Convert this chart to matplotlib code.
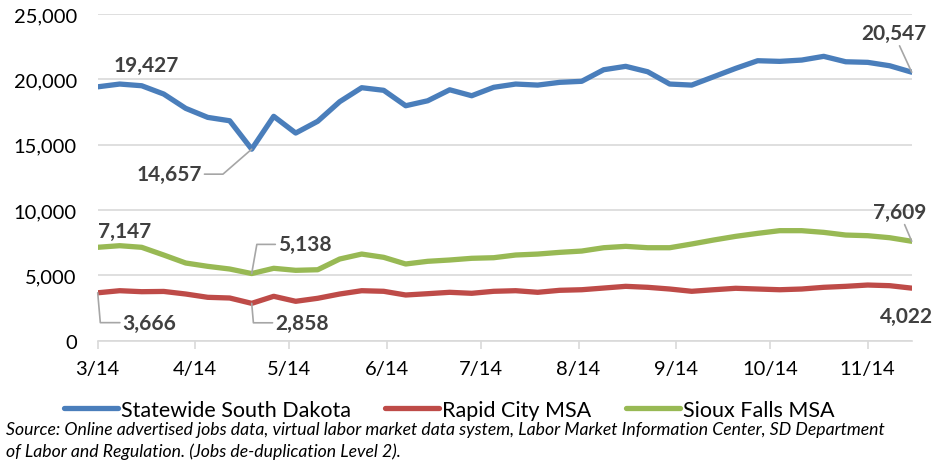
import numpy as np
import pandas as pd
import matplotlib
matplotlib.use('Agg')
import matplotlib.pyplot as plt

# weekly job ads, starting 3/1/2014
weeks = pd.date_range('2014-03-01', periods=38, freq='7D')

statewide = [19427, 19640, 19510, 18875, 17780, 17090, 16830, 14657, 17170, 15890,
             16790, 18290, 19360, 19160, 17980, 18360, 19200, 18745, 19390, 19640,
             19560, 19770, 19850, 20735, 20995, 20580, 19640, 19560, 20200, 20840,
             21425, 21375, 21475, 21760, 21345, 21300, 21040, 20547]
rapid_city = [3666, 3826, 3750, 3770, 3573, 3320, 3267, 2858, 3397, 3015,
              3245, 3573, 3826, 3780, 3497, 3597, 3703, 3627, 3780, 3826,
              3703, 3856, 3900, 4030, 4160, 4085, 3955, 3780, 3900, 4010,
              3955, 3900, 3955, 4085, 4160, 4260, 4210, 4022]
sioux_falls = [7147, 7270, 7146, 6557, 5945, 5690, 5485, 5138, 5540, 5385,
               5430, 6250, 6630, 6380, 5870, 6075, 6175, 6305, 6350, 6557,
               6630, 6760, 6860, 7115, 7220, 7115, 7115, 7400, 7705, 7985,
               8215, 8420, 8420, 8290, 8085, 8035, 7880, 7609]

month_ticks = pd.date_range('2014-03-01', '2014-11-01', freq='MS')
month_labels = ['3/14', '4/14', '5/14', '6/14', '7/14', '8/14', '9/14', '10/14', '11/14']

plt.rcParams['font.family'] = ['Lato', 'DejaVu Sans']

fig = plt.figure(figsize=(9.34, 4.64), dpi=100)
ax = fig.add_axes([97.7/934, 1-341.7/464, (911.7-97.7)/934, (341.7-15)/464])

ax.plot(weeks, statewide, color='#4a7ebb', lw=3.8, label='Statewide South Dakota', solid_capstyle='round')
ax.plot(weeks, rapid_city, color='#be4b48', lw=3.8, label='Rapid City MSA', solid_capstyle='round')
ax.plot(weeks, sioux_falls, color='#98b954', lw=3.8, label='Sioux Falls MSA', solid_capstyle='round')

ax.set_xlim(weeks[0], weeks[-1])
ax.set_ylim(0, 25000)
ax.set_yticks(np.arange(0, 25001, 5000))
ax.set_yticklabels([f'{v:,}' for v in range(0, 25001, 5000)], fontsize=14.5)
ax.set_xticks(month_ticks)
ax.set_xticklabels(month_labels, fontsize=14.5)
ax.grid(axis='y', color='#d9d9d9', lw=1.2)
ax.set_axisbelow(True)
for s in ['top', 'right', 'left']:
    ax.spines[s].set_visible(False)
ax.spines['bottom'].set_color('#d9d9d9')
ax.spines['bottom'].set_linewidth(1.2)
ax.tick_params(axis='y', length=0, pad=15)
ax.tick_params(axis='x', length=6, color='#d9d9d9', width=1.2, pad=8)

# data labels
lab = dict(fontsize=15, fontweight='bold', color='#404040', annotation_clip=False)
lead = dict(arrowstyle='-', color='#a6a6a6', lw=1.2, shrinkA=0, shrinkB=0)
ax.annotate('19,427', (weeks[0], statewide[0]), xytext=(11.5, 16), textcoords='offset points',
            ha='left', va='center', **lab)
ax.annotate('14,657', (weeks[7], statewide[7]), xytext=(-36, -18), textcoords='offset points',
            ha='right', va='center', arrowprops=dict(lead, connectionstyle='angle,angleA=0,angleB=41'), **lab)
ax.annotate('20,547', (weeks[-1], statewide[-1]), xytext=(-13, 21), textcoords='offset points',
            ha='center', va='bottom', arrowprops=lead, **lab)
ax.annotate('7,147', (weeks[0], sioux_falls[0]), xytext=(0, 11.5), textcoords='offset points',
            ha='left', va='center', **lab)
ax.annotate('5,138', (weeks[7], sioux_falls[7]), xytext=(19, 21), textcoords='offset points',
            ha='left', va='center', arrowprops=dict(lead, connectionstyle='angle,angleA=0,angleB=80'), **lab)
ax.annotate('7,609', (weeks[-1], sioux_falls[-1]), xytext=(-9, 14), textcoords='offset points',
            ha='center', va='bottom', arrowprops=lead, **lab)
ax.annotate('3,666', (weeks[0], rapid_city[0]), xytext=(18, -21.5), textcoords='offset points',
            ha='left', va='center', arrowprops=dict(lead, connectionstyle='angle,angleA=0,angleB=-85'), **lab)
ax.annotate('2,858', (weeks[7], rapid_city[7]), xytext=(17, -14), textcoords='offset points',
            ha='left', va='center', arrowprops=dict(lead, connectionstyle='angle,angleA=0,angleB=-85'), **lab)
ax.annotate('4,022', (weeks[-1], rapid_city[-1]), xytext=(-4, -20), textcoords='offset points',
            ha='center', va='center', **lab)

fig.legend(loc='center left', bbox_to_anchor=(53/934, 1-411/464), ncol=3, frameon=False,
           fontsize=15.5, handlelength=2.5, handletextpad=0.15, columnspacing=1.6, borderpad=0)

fig.text(6/934, 1-430/464, 'Source: Online advertised jobs data, virtual labor market data system, Labor Market Information Center, SD Department',
         fontsize=12.7, style='italic', va='center', ha='left')
fig.text(6/934, 1-452/464, 'of Labor and Regulation. (Jobs de-duplication Level 2).',
         fontsize=12.7, style='italic', va='center', ha='left')

fig.savefig('out.png', dpi=100)
